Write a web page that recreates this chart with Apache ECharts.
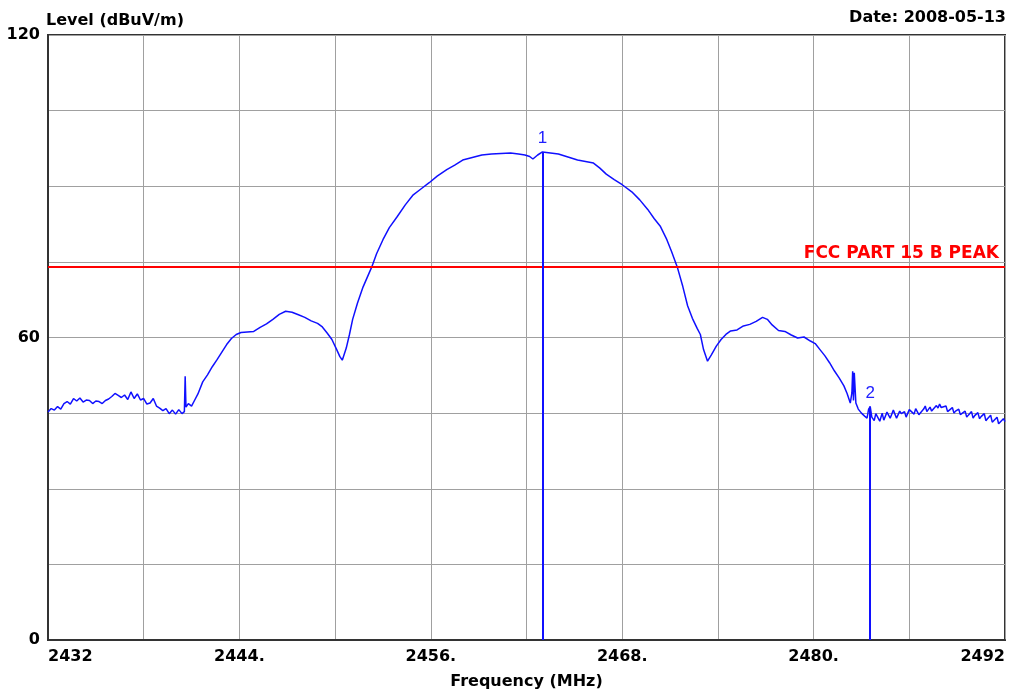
<!DOCTYPE html>
<html>
<head>
<meta charset="utf-8">
<script src="https://cdn.jsdelivr.net/npm/echarts@6/dist/echarts.min.js"></script>
<style>
  html, body { margin: 0; padding: 0; background: #fff; }
  #chart { width: 1024px; height: 695px; }
</style>
</head>
<body>
<div id="chart"></div>
<script>
// measured trace: [frequency MHz, level dBuV/m]
const trace = [
  [2432.0, 45.2], [2432.2, 45.9], [2432.4, 45.6], [2432.6, 46.3], [2432.8, 45.8], [2433.0, 46.9],
  [2433.2, 47.3], [2433.4, 46.8], [2433.6, 47.9], [2433.8, 47.4], [2434.0, 48.0], [2434.2, 47.2],
  [2434.4, 47.6], [2434.6, 47.5], [2434.8, 46.9], [2435.0, 47.4], [2435.2, 47.3], [2435.4, 46.9],
  [2435.6, 47.5], [2435.8, 47.8], [2436.0, 48.3], [2436.2, 48.9], [2436.4, 48.5], [2436.6, 48.1],
  [2436.8, 48.6], [2437.0, 47.7], [2437.2, 49.2], [2437.4, 47.9], [2437.6, 48.8], [2437.8, 47.6],
  [2438.0, 47.9], [2438.2, 46.8], [2438.4, 47.0], [2438.6, 47.9], [2438.8, 46.4], [2439.0, 46.0],
  [2439.2, 45.5], [2439.4, 45.9], [2439.6, 44.9], [2439.8, 45.6], [2440.0, 44.8], [2440.2, 45.7],
  [2440.4, 44.9], [2440.55, 45.3], [2440.6, 52.3], [2440.65, 46.2], [2440.8, 46.9], [2441.0, 46.4],
  [2441.2, 47.6], [2441.4, 48.8], [2441.7, 51.2], [2442.0, 52.6], [2442.3, 54.2], [2442.6, 55.6],
  [2442.9, 57.1], [2443.2, 58.6], [2443.5, 59.8], [2443.8, 60.6], [2444.1, 61.0], [2444.5, 61.1],
  [2444.9, 61.2], [2445.3, 62.0], [2445.7, 62.7], [2446.1, 63.6], [2446.5, 64.6], [2446.9, 65.2],
  [2447.3, 65.0], [2447.7, 64.5], [2448.1, 64.0], [2448.5, 63.3], [2448.9, 62.8], [2449.2, 62.1],
  [2449.5, 60.9], [2449.8, 59.6], [2450.1, 57.6], [2450.3, 56.2], [2450.45, 55.5], [2450.7, 57.9],
  [2450.9, 60.6], [2451.1, 63.6], [2451.4, 66.8], [2451.75, 70.0], [2452.3, 74.0], [2452.6, 76.6],
  [2453.0, 79.4], [2453.4, 81.8], [2453.9, 84.0], [2454.4, 86.3], [2454.9, 88.3], [2455.4, 89.5],
  [2455.9, 90.7], [2456.4, 92.0], [2457.0, 93.3], [2457.5, 94.2], [2458.0, 95.2], [2458.6, 95.7],
  [2459.2, 96.2], [2459.8, 96.4], [2460.4, 96.5], [2461.0, 96.6], [2461.5, 96.4], [2461.9, 96.2],
  [2462.2, 95.9], [2462.4, 95.4], [2462.7, 96.2], [2463.0, 96.8], [2463.5, 96.6], [2464.0, 96.4],
  [2464.6, 95.8], [2465.2, 95.2], [2465.7, 94.9], [2466.2, 94.6], [2466.6, 93.6], [2467.0, 92.4],
  [2467.5, 91.3], [2468.0, 90.3], [2468.6, 88.9], [2469.1, 87.3], [2469.6, 85.4], [2470.0, 83.6],
  [2470.4, 82.0], [2470.8, 79.4], [2471.1, 77.0], [2471.45, 74.0], [2471.8, 70.1], [2472.1, 66.3],
  [2472.4, 63.8], [2472.7, 61.8], [2472.9, 60.6], [2473.1, 57.6], [2473.35, 55.3], [2473.6, 56.6],
  [2473.9, 58.3], [2474.2, 59.6], [2474.5, 60.6], [2474.8, 61.3], [2475.2, 61.5], [2475.6, 62.3],
  [2476.0, 62.6], [2476.4, 63.2], [2476.8, 64.0], [2477.1, 63.6], [2477.4, 62.5], [2477.8, 61.4],
  [2478.2, 61.2], [2478.6, 60.5], [2479.0, 59.9], [2479.4, 60.1], [2479.8, 59.3], [2480.1, 58.8],
  [2480.4, 57.6], [2480.7, 56.4], [2481.0, 55.0], [2481.3, 53.4], [2481.6, 52.0], [2481.9, 50.4],
  [2482.1, 48.9], [2482.3, 47.0], [2482.4, 49.0], [2482.45, 53.3], [2482.5, 47.5], [2482.55, 53.0],
  [2482.65, 47.0], [2482.8, 45.8], [2483.0, 45.0], [2483.2, 44.4], [2483.35, 44.0], [2483.45, 45.8],
  [2483.55, 46.3], [2483.65, 44.2], [2483.8, 43.5], [2483.9, 44.9], [2484.0, 44.6], [2484.15, 43.4],
  [2484.3, 45.0], [2484.4, 43.6], [2484.5, 43.8], [2484.6, 45.2], [2484.7, 44.9], [2484.8, 44.0],
  [2484.9, 43.7], [2485.0, 45.6], [2485.1, 45.3], [2485.2, 44.0], [2485.3, 44.1], [2485.4, 45.4],
  [2485.5, 44.9], [2485.7, 45.3], [2485.8, 44.2], [2485.9, 44.5], [2486.0, 45.7], [2486.1, 45.4],
  [2486.3, 44.8], [2486.4, 45.9], [2486.5, 45.6], [2486.6, 44.7], [2486.7, 44.9], [2486.9, 45.8],
  [2487.0, 46.4], [2487.1, 45.3], [2487.3, 46.2], [2487.4, 45.4], [2487.5, 45.7], [2487.7, 46.5],
  [2487.8, 46.0], [2487.9, 46.8], [2488.0, 46.1], [2488.1, 46.0], [2488.3, 46.4], [2488.4, 45.3],
  [2488.5, 45.5], [2488.7, 46.1], [2488.8, 45.0], [2488.9, 45.4], [2489.1, 45.8], [2489.2, 44.7],
  [2489.3, 44.9], [2489.5, 45.4], [2489.6, 44.2], [2489.7, 44.6], [2489.9, 45.3], [2490.0, 44.0],
  [2490.1, 44.5], [2490.3, 45.1], [2490.4, 43.9], [2490.5, 44.3], [2490.7, 44.9], [2490.8, 43.5],
  [2490.9, 43.9], [2491.1, 44.6], [2491.2, 43.2], [2491.3, 43.4], [2491.5, 44.2], [2491.6, 42.9],
  [2491.7, 43.1], [2491.9, 43.9], [2492.0, 43.3]
]

const markerNames = ['1', '2']
const markerFreq = [2463.0, 2483.55]
const markerLevel = [96.8, 46.3]

const limitName = 'FCC PART 15 B PEAK'
const limitLevel = 74

const xLabelValues = [2432, 2444, 2456, 2468, 2480, 2492]
const xLabelTexts = ['2432', '2444.', '2456.', '2468.', '2480.', '2492']
const yLabelValues = [0, 60, 120]
const yLabelTexts = ['0', '60', '120']

const font = 'DejaVu Sans'

const chart = echarts.init(document.getElementById('chart'))

const markerLines = markerNames.map((name, i) => [
  { coord: [markerFreq[i], 0] },
  {
    coord: [markerFreq[i], markerLevel[i]],
    label: {
      show: true,
      position: 'end',
      formatter: name,
      color: '#2020ff',
      fontSize: 17,
      fontFamily: 'Liberation Sans',
      distance: 5
    }
  }
])

chart.setOption({
  animation: false,
  backgroundColor: '#fff',
  title: [{
    text: 'Level (dBuV/m)',
    left: 46,
    top: 13,
    padding: 0,
    textStyle: { fontFamily: font, fontWeight: 'bold', fontSize: 16, color: '#000' }
  }, {
    text: 'Date: 2008-05-13',
    right: 18,
    top: 10,
    padding: 0,
    textStyle: { fontFamily: font, fontWeight: 'bold', fontSize: 16, color: '#000' }
  }],
  grid: {
    left: 48,
    right: 19,
    top: 35,
    bottom: 54,
    show: true,
    borderColor: '#333',
    borderWidth: 2
  },
  xAxis: {
    type: 'value',
    min: 2432,
    max: 2492,
    interval: 6,
    name: 'Frequency (MHz)',
    nameLocation: 'middle',
    nameGap: 34,
    nameTextStyle: { fontFamily: font, fontWeight: 'bold', fontSize: 16, color: '#000' },
    axisLine: { show: true, lineStyle: { color: '#333', width: 2 } },
    axisTick: { show: false },
    splitLine: { show: true, lineStyle: { color: '#a0a0a0', width: 1 } },
    axisLabel: {
      margin: 9,
      fontFamily: font,
      fontWeight: 'bold',
      fontSize: 16,
      color: '#000',
      showMinLabel: true,
      showMaxLabel: true,
      alignMinLabel: 'left',
      alignMaxLabel: 'right',
      formatter: v => {
        const i = xLabelValues.indexOf(Math.round(v))
        return i >= 0 ? xLabelTexts[i] : ''
      }
    }
  },
  yAxis: {
    type: 'value',
    min: 0,
    max: 120,
    interval: 15,
    axisLine: { show: true, lineStyle: { color: '#333', width: 2 } },
    axisTick: { show: false },
    splitLine: { show: true, lineStyle: { color: '#a0a0a0', width: 1 } },
    axisLabel: {
      margin: 8,
      fontFamily: font,
      fontWeight: 'bold',
      fontSize: 16,
      color: '#000',
      formatter: v => {
        const i = yLabelValues.indexOf(Math.round(v))
        return i >= 0 ? yLabelTexts[i] : ''
      }
    }
  },
  series: [{
    type: 'line',
    data: trace,
    showSymbol: false,
    symbol: 'none',
    lineStyle: { color: '#1010ff', width: 1.5 },
    markLine: {
      silent: true,
      symbol: ['none', 'none'],
      animation: false,
      lineStyle: { color: '#1010ff', width: 2, type: 'solid' },
      data: [
        {
          yAxis: limitLevel,
          lineStyle: { color: '#ff0000', width: 2, type: 'solid' },
          label: {
            show: true,
            position: 'insideEndTop',
            formatter: limitName,
            color: '#ff0000',
            fontFamily: font,
            fontWeight: 'bold',
            fontSize: 17,
            distance: [6, 5]
          }
        },
        ...markerLines
      ]
    }
  }]
})
</script>
</body>
</html>
